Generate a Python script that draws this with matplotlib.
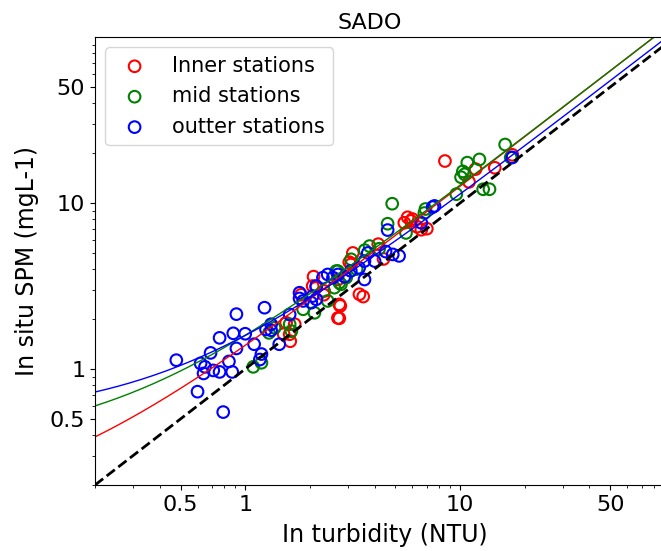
import numpy as np
import matplotlib
matplotlib.use("Agg")
from matplotlib import pyplot as plt
from matplotlib.ticker import FixedLocator, FixedFormatter

# inner stations (turbidity NTU, SPM mg/L)
inner_x = [8.5, 14.5, 17.5, 11.8, 11.0, 5.7, 5.9, 6.3, 6.6, 7.0, 5.5, 4.16, 3.17, 3.05, 3.11,
           4.4, 2.08, 2.14, 2.32, 2.33, 3.54, 2.77, 2.74, 2.7, 2.74, 1.82, 1.55, 1.70, 1.61,
           3.40, 2.06, 2.70, 6.0, 1.51, 1.62]
inner_y = [17.9, 16.3, 19.5, 16.0, 13.4, 8.2, 7.8, 7.2, 6.9, 7.0, 7.6, 5.65, 5.0, 4.4, 4.27,
           4.6, 3.6, 3.1, 2.8, 2.95, 2.73, 2.4, 2.45, 2.03, 2.02, 2.8, 1.90, 1.86, 1.62,
           2.82, 3.16, 3.46, 8.0, 1.62, 1.47]

# mid stations
mid_x = [16.2, 10.8, 12.3, 10.5, 10.1, 9.6, 12.8, 13.7, 6.9, 4.83, 4.6, 6.82, 2.65, 2.79,
         3.79, 3.11, 1.09, 1.19, 1.29, 1.37, 1.61, 1.86, 2.10, 2.42, 2.60, 2.74, 2.70, 2.95,
         1.64, 3.3, 3.6, 5.6, 4.2, 10.3, 17.2]
mid_y = [22.5, 17.5, 18.3, 14.9, 14.3, 11.3, 12.1, 12.1, 9.2, 9.9, 7.5, 8.7, 3.89, 3.24,
         5.5, 4.58, 1.03, 1.09, 1.65, 1.77, 1.86, 2.29, 2.18, 2.57, 3.09, 3.31, 3.89, 3.55,
         1.69, 4.0, 5.2, 6.6, 5.3, 15.5, 18.8]

# outter stations
outer_x = [0.478, 0.60, 0.79, 0.62, 0.64, 0.65, 0.71, 0.76, 0.87, 0.84, 0.69, 0.76, 0.88,
           1.0, 0.91, 0.91, 1.10, 1.19, 1.17, 1.32, 1.44, 1.23, 1.25, 1.32, 1.61, 1.79, 1.79,
           1.86, 2.03, 2.06, 2.14, 2.30, 2.42, 2.56, 2.70, 2.14, 3.39, 3.72, 3.59, 4.0, 4.86,
           5.2, 4.5, 3.59, 6.6, 7.45, 7.6, 4.6, 17.5, 2.9, 3.1]
outer_y = [1.13, 0.73, 0.55, 1.08, 0.94, 1.03, 0.98, 0.96, 0.96, 1.11, 1.25, 1.54, 1.64,
           1.63, 1.33, 2.14, 1.41, 1.23, 1.14, 1.86, 1.41, 2.34, 1.73, 1.71, 2.13, 2.88, 2.66,
           2.57, 2.51, 2.75, 2.63, 3.55, 3.71, 3.55, 3.71, 3.16, 4.07, 5.0, 4.47, 4.47, 4.9,
           4.8, 5.1, 3.46, 7.6, 9.45, 9.6, 6.87, 18.8, 3.6, 3.9]

# linear fits SPM = a + b * turbidity (inner, mid, outter)
fit_a = [0.14, 0.35, 0.51]
fit_b = [1.248, 1.246, 1.082]
colors = ["red", "green", "blue"]
labels = ["Inner stations", "mid stations", "outter stations"]

fig = plt.figure(figsize=(6.61, 5.51), dpi=100)
ax = fig.add_axes([95 / 661, 66 / 551, 580 / 661, 448 / 551])

groups = [(inner_x, inner_y), (mid_x, mid_y), (outer_x, outer_y)]
for (gx, gy), c, lab in zip(groups, colors, labels):
    ax.scatter(gx, gy, s=70, facecolors="none", edgecolors=c, linewidths=1.5, label=lab)

xs = np.logspace(np.log10(0.2), np.log10(100), 300)
for a, b, c in zip(fit_a, fit_b, colors):
    ax.plot(xs, a + b * xs, color=c, lw=1)
ax.plot(xs, xs, "k--", lw=2)

ax.set_xscale("log")
ax.set_yscale("log")
ax.set_xlim(0.2, 100)
ax.set_ylim(0.2, 100)

ticks = [0.5, 1, 10, 50]
ticklabels = ["0.5", "1", "10", "50"]
ax.xaxis.set_major_locator(FixedLocator(ticks))
ax.xaxis.set_major_formatter(FixedFormatter(ticklabels))
ax.yaxis.set_major_locator(FixedLocator(ticks))
ax.yaxis.set_major_formatter(FixedFormatter(ticklabels))
ax.tick_params(labelsize=16)

ax.set_xlabel("In turbidity (NTU)", fontsize=17, labelpad=6)
ax.set_ylabel("In situ SPM (mgL-1)", fontsize=17, labelpad=8)
ax.set_title("SADO", fontsize=16, x=(370 - 95) / 580)
ax.legend(loc="upper left", fontsize=15)

fig.savefig("out.png", dpi=100)
